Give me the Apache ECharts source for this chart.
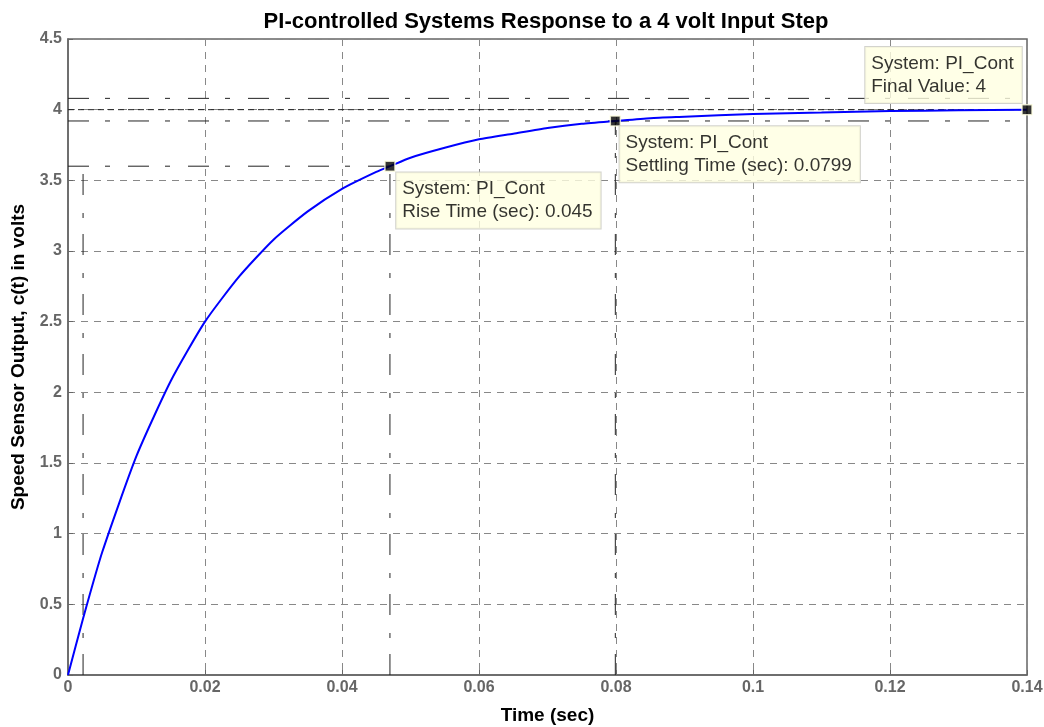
<!DOCTYPE html>
<html>
<head>
<meta charset="utf-8">
<script src="https://cdn.jsdelivr.net/npm/echarts@6/dist/echarts.min.js"></script>
<style>html,body{margin:0;padding:0;background:#fff}#c{width:1044px;height:727px}</style>
</head>
<body>
<div id="c"></div>
<script>
// ---- data ----
const timeSec = [0, 0.0022, 0.005, 0.01, 0.015, 0.02, 0.025, 0.03, 0.035, 0.04, 0.045, 0.047, 0.05, 0.055, 0.06, 0.065, 0.07, 0.075, 0.0799, 0.085, 0.09, 0.1, 0.11, 0.12, 0.13, 0.14];
const outputVolts = [0, 0.40, 0.87, 1.55, 2.08, 2.50, 2.82, 3.08, 3.28, 3.44, 3.56, 3.60, 3.66, 3.73, 3.79, 3.83, 3.87, 3.90, 3.92, 3.94, 3.95, 3.97, 3.98, 3.99, 3.995, 4.0];
const riseStart = [0.0022, 0.4];
const risePoint = [0.047, 3.6];
const settlePoint = [0.0799, 3.92];
const finalPoint = [0.14, 4];
const settleBand = [3.92, 4.08];
const xRange = [0, 0.14];
const xTickStep = 0.02;
const yRange = [0, 4.5];
const yTickStep = 0.5;
const riseLabel = ['System: PI_Cont', 'Rise Time (sec): 0.045'];
const settleLabel = ['System: PI_Cont', 'Settling Time (sec): 0.0799'];
const finalLabel = ['System: PI_Cont', 'Final Value: 4'];

const curve = timeSec.map((t, i) => [t, outputVolts[i]]);
const FONT = '"Liberation Sans", Arial, sans-serif';
const dashDot = { color: '#222', width: 1, type: [21, 16, 5, 18] };

function refLine(pts, style) {
  return { type: 'line', data: pts, symbol: 'none', silent: true, animation: false,
           lineStyle: style, z: 3 };
}
function tip(pt, lines, pos) {
  return {
    type: 'scatter', data: [pt], symbol: 'rect', symbolSize: 10, animation: false, z: 10,
    itemStyle: { color: '#000', borderColor: '#FFFFE1', borderWidth: 1.5 },
    label: {
      show: true, position: pos, align: 'left', verticalAlign: 'top',
      formatter: lines.join('\n'), fontFamily: FONT, fontSize: 19, color: '#000',
      lineHeight: 23, backgroundColor: '#FFFFE1', borderColor: '#c8c8c0', borderWidth: 1,
      padding: [5, 8, 5, 6]
    }
  };
}

const chart = echarts.init(document.getElementById('c'), null, { renderer: 'canvas' });
chart.setOption({
  backgroundColor: '#fff',
  animation: false,
  title: {
    text: 'PI-controlled Systems Response to a 4 volt Input Step',
    left: 541, top: 6, textAlign: 'center',
    textStyle: { fontFamily: FONT, fontSize: 22, fontWeight: 'bold', color: '#000' }
  },
  grid: { left: 68, right: 17, top: 39, bottom: 52, outerBoundsMode: 'none', containLabel: false,
          show: true, borderColor: '#666', borderWidth: 1.5, backgroundColor: 'transparent' },
  xAxis: {
    type: 'value', min: xRange[0], max: xRange[1], interval: xTickStep,
    name: 'Time (sec)', nameLocation: 'middle', nameGap: 31, nameMoveOverlap: false,
    nameTextStyle: { fontFamily: FONT, fontSize: 19, fontWeight: 'bold', color: '#000' },
    axisLine: { show: true, lineStyle: { color: '#666', width: 1.5 } },
    axisTick: { show: true, inside: true, length: 5, lineStyle: { color: '#666' } },
    axisLabel: { fontFamily: FONT, fontSize: 16, fontWeight: 'bold', color: '#666', margin: 5 },
    splitLine: { show: true, lineStyle: { color: '#888', type: [7, 6], width: 1 } }
  },
  yAxis: {
    type: 'value', min: yRange[0], max: yRange[1], interval: yTickStep,
    name: 'Speed Sensor Output, c(t) in volts', nameLocation: 'middle', nameGap: 40, nameMoveOverlap: false,
    nameTextStyle: { fontFamily: FONT, fontSize: 19, fontWeight: 'bold', color: '#000' },
    axisLine: { show: true, lineStyle: { color: '#666', width: 1.5 } },
    axisTick: { show: true, inside: true, length: 5, lineStyle: { color: '#666' } },
    axisLabel: { fontFamily: FONT, fontSize: 16, fontWeight: 'bold', color: '#666', margin: 6 },
    splitLine: { show: true, lineStyle: { color: '#888', type: [7, 6], width: 1 } }
  },
  series: [
    refLine([[xRange[0], settleBand[1]], [xRange[1], settleBand[1]]], dashDot),
    refLine([[xRange[0], settleBand[0]], [xRange[1], settleBand[0]]], dashDot),
    refLine([[xRange[0], finalPoint[1]], [xRange[1], finalPoint[1]]], { color: '#222', width: 1, type: [6, 4] }),
    refLine([[xRange[0], risePoint[1]], [risePoint[0], risePoint[1]]], dashDot),
    refLine([[riseStart[0], yRange[0]], [riseStart[0], risePoint[1]]], dashDot),
    refLine([[risePoint[0], yRange[0]], [risePoint[0], risePoint[1]]], dashDot),
    refLine([[settlePoint[0], yRange[0]], [settlePoint[0], settlePoint[1]]], dashDot),
    { type: 'line', data: curve, symbol: 'none', smooth: 0.2, animation: false, z: 5,
      lineStyle: { color: '#0000FF', width: 2 } },
    tip(risePoint, riseLabel, [12, 12]),
    tip(settlePoint, settleLabel, [10, 11]),
    tip(finalPoint, finalLabel, [-156, -57])
  ]
});
</script>
</body>
</html>
